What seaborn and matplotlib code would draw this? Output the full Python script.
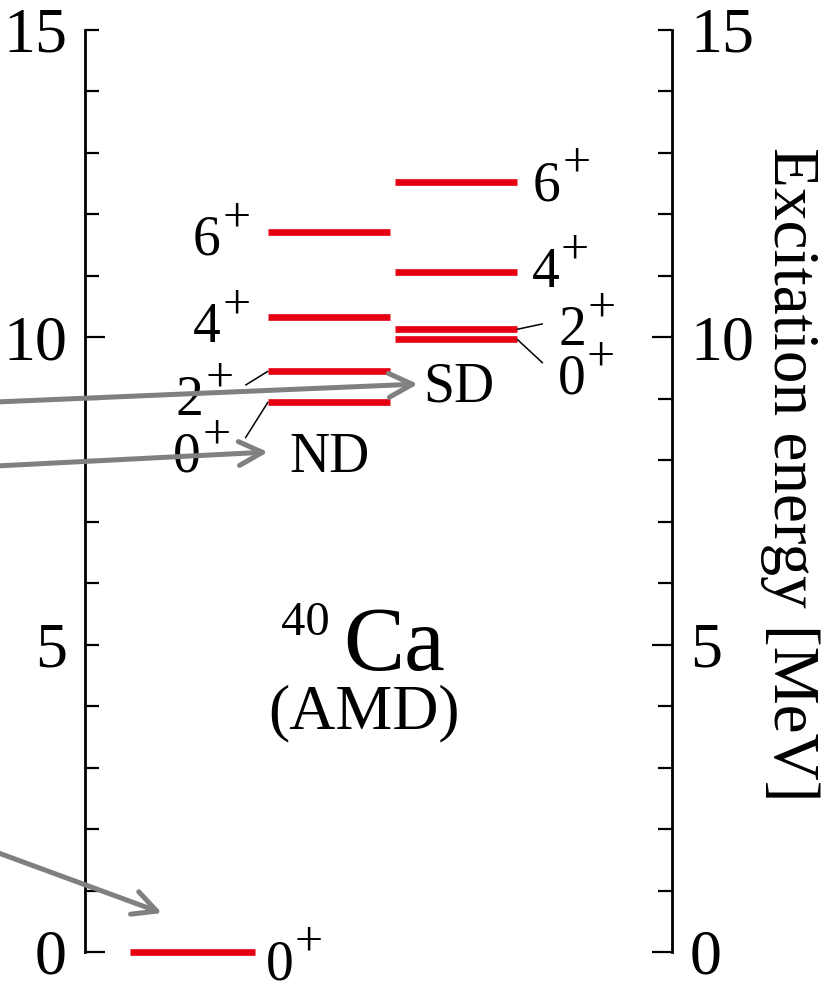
import matplotlib
matplotlib.use("Agg")
import matplotlib.pyplot as plt
from matplotlib.ticker import FixedLocator, FuncFormatter
import seaborn as sns
import pandas as pd

# ---- level scheme of 40Ca (AMD) ----
band = ["GS", "ND", "ND", "ND", "ND", "SD", "SD", "SD", "SD"]
spin = ["0", "0", "2", "4", "6", "0", "2", "4", "6"]
energy = [0.0, 8.95, 9.45, 10.33, 11.71, 9.97, 10.13, 11.06, 12.53]

band_names = ["ND", "SD"]
y_ticks = [0, 5, 10, 15]
y_label = "Excitation energy [MeV]"
nucleus = "Ca"
mass_number = "40"
model = "(AMD)"

# ---- layout ----
RED = "#e60012"
GREY = "#808080"
col_span = {"GS": (0.77, 2.90), "ND": (3.12, 5.20), "SD": (5.28, 7.36)}
# digit origin of each spin label (data coords)
label_pos = [(3.08, -0.44), (1.50, 7.81), (1.55, 8.74), (1.84, 9.92), (1.84, 11.34),
             (8.05, 9.08), (8.07, 9.875), (7.61, 10.82), (7.63, 12.23)]
# small leader lines: level index -> label end point
leaders = {1: (2.73, 8.36), 2: (2.73, 9.22), 5: (7.80, 9.58), 6: (7.80, 10.22)}
band_label_pos = {"ND": (3.49, 7.81), "SD": (5.76, 8.96)}

sns.set_theme(style="ticks")
plt.rcParams["font.family"] = ["Liberation Serif", "DejaVu Serif"]
plt.rcParams["axes.linewidth"] = 2.0
for key in ["text.color", "axes.labelcolor", "xtick.color", "ytick.color", "axes.edgecolor"]:
    plt.rcParams[key] = "black"

fig = plt.figure(figsize=(8.27, 9.89), dpi=100)
ax = fig.add_axes([85 / 827, 37 / 989, 587 / 827, 922 / 989])

rows = []
for i, (b, e) in enumerate(zip(band, energy)):
    x0, x1 = col_span[b]
    rows.append({"level": i, "x": x0, "E": e})
    rows.append({"level": i, "x": x1, "E": e})
df = pd.DataFrame(rows)

sns.lineplot(data=df, x="x", y="E", units="level", estimator=None, sort=False,
             color=RED, lw=4.8, legend=False, ax=ax)
for ln in ax.lines:
    ln.set_solid_capstyle("butt")
    ln.set_clip_on(False)

ax.set_xlim(0, 10)
ax.set_ylim(0, 15)
ax.set_xlabel("")
ax.set_ylabel("")
ax.set_xticks([])
for s in ["top", "bottom", "right"]:
    ax.spines[s].set_visible(False)

fmt = FuncFormatter(lambda v, _: f"{v:.0f}")


def style_axis(a, long_ticks):
    short = [v for v in range(16) if v not in long_ticks]
    a.yaxis.set_major_locator(FixedLocator(long_ticks))
    a.yaxis.set_minor_locator(FixedLocator(short))
    a.yaxis.set_major_formatter(fmt)
    a.yaxis.set_minor_formatter(
        FuncFormatter(lambda v, _: f"{v:.0f}" if round(v) in y_ticks else ""))
    a.tick_params(axis="y", which="both", direction="in", width=1.6, pad=13,
                  labelsize=46, colors="black")
    a.tick_params(axis="y", which="major", length=14.5)
    a.tick_params(axis="y", which="minor", length=10)


style_axis(ax, [0, 10])

ax2 = ax.twinx()
ax2.set_ylim(0, 15)
for s in ["top", "bottom", "left"]:
    ax2.spines[s].set_visible(False)
ax2.spines["right"].set_linewidth(2.0)
style_axis(ax2, [0, 5, 10])
ax2.set_ylabel(y_label, rotation=-90, fontsize=47, ha="center", va="center")
ax2.yaxis.set_label_coords(1.20, 0.518)

# spin labels with raised "+"
for (x, y), j in zip(label_pos, spin):
    ax.text(x, y, j, fontsize=40, ha="left", va="baseline", clip_on=False)
    ax.annotate("+", xy=(x, y), xytext=(21, 17), textcoords="offset points",
                fontsize=36, ha="left", va="baseline", annotation_clip=False)

# leader lines from level ends to labels
for i, (lx, ly) in leaders.items():
    b = band[i]
    x_end = col_span[b][0] if b == "ND" else col_span[b][1]
    ax.plot([x_end, lx], [energy[i], ly], color="black", lw=1.1,
            solid_capstyle="butt", clip_on=False)

for name in band_names:
    bx, by = band_label_pos[name]
    ax.text(bx, by, name, fontsize=40, ha="left", va="baseline")

ax.text(4.395, 4.588, nucleus, fontsize=66, ha="left", va="baseline")
ax.text(4.174, 5.157, mass_number, fontsize=35, ha="right", va="baseline")
ax.text(4.753, 3.644, model, fontsize=46, ha="center", va="baseline")

# grey arrows coming in from the left
arrow_tips = [(5.673, 9.24), (3.118, 8.134), (1.312, 0.634)]
arrow_tails = [(-0.005, 1 - 402 / 989), (-0.005, 1 - 466 / 989), (-0.005, 1 - 852 / 989)]
for tip, tail in zip(arrow_tips, arrow_tails):
    ax.annotate("", xy=tip, xycoords="data", xytext=tail, textcoords="figure fraction",
                arrowprops=dict(arrowstyle="->, head_length=0.85, head_width=0.43",
                                color=GREY, lw=3.6, shrinkA=0, shrinkB=0,
                                mutation_scale=20),
                annotation_clip=False, zorder=10)

fig.savefig("out.png", dpi=100)
